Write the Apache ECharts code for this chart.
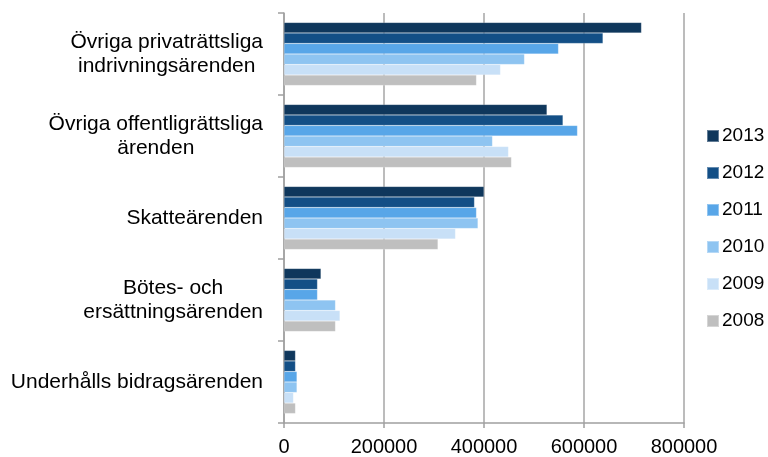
<!DOCTYPE html>
<html>
<head>
<meta charset="utf-8">
<script src="https://cdn.jsdelivr.net/npm/echarts@6/dist/echarts.min.js"></script>
<style>
html,body{margin:0;padding:0;background:#fff;}
#chart{width:768px;height:457px;}
</style>
</head>
<body>
<div id="chart"></div>
<script>
var categories = ['Övriga privaträttsliga\nindrivningsärenden', 'Övriga offentligrättsliga\närenden', 'Skatteärenden', 'Bötes- och\nersättningsärenden', 'Underhålls bidragsärenden'];
var years = ['2013', '2012', '2011', '2010', '2009', '2008'];
var v2013 = [715000, 526000, 400000, 74000, 23000];
var v2012 = [638000, 558000, 381000, 67000, 23000];
var v2011 = [549000, 587000, 385000, 67000, 26000];
var v2010 = [481000, 417000, 388000, 103000, 26000];
var v2009 = [433000, 449000, 343000, 112000, 19000];
var v2008 = [385000, 455000, 308000, 103000, 23000];
var xTicks = [0, 200000, 400000, 600000, 800000];
var colors = ['#0f375c', '#134f86', '#58a6e8', '#8ec4f1', '#c8e0f7', '#bfbfbf'];

var values = [v2013, v2012, v2011, v2010, v2009, v2008];
var font = '"Liberation Sans", Arial, sans-serif';
var chart = echarts.init(document.getElementById('chart'), null, {renderer: 'canvas'});
chart.setOption({
  animation: false,
  backgroundColor: '#ffffff',
  color: colors,
  grid: {left: 284, right: 84, top: 13, bottom: 34, containLabel: false},
  legend: {
    orient: 'vertical',
    left: 706,
    top: 126,
    padding: 0,
    itemWidth: 12,
    itemHeight: 12,
    itemGap: 17,
    icon: 'rect',
    data: years,
    textStyle: {fontFamily: font, fontSize: 19, color: '#000', lineHeight: 20, padding: [0, 0, 0, -2]}
  },
  xAxis: {
    type: 'value',
    min: xTicks[0],
    max: xTicks[xTicks.length - 1],
    interval: xTicks[1] - xTicks[0],
    axisLine: {show: true, lineStyle: {color: '#a0a0a0', width: 1.5}},
    axisTick: {show: true, length: 5, lineStyle: {color: '#a0a0a0', width: 1.5}},
    splitLine: {show: true, lineStyle: {color: '#a6a6a6', width: 1.5}},
    axisLabel: {
      fontFamily: font,
      fontSize: 20, color: '#000', margin: 14,
      formatter: function (v) { return String(v); }
    }
  },
  yAxis: {
    type: 'category',
    inverse: true,
    data: categories,
    axisLine: {show: true, lineStyle: {color: '#a0a0a0', width: 1.5}},
    axisTick: {show: true, length: 6, lineStyle: {color: '#a0a0a0', width: 1.5}},
    splitLine: {show: false},
    axisLabel: {
      margin: 21,
      align: 'right',
      formatter: function (v) {
        return v.split('\n').map(function (l) { return '{c|' + l + '}'; }).join('\n');
      },
      rich: {
        c: {align: 'center', fontFamily: font, fontSize: 21, color: '#000', lineHeight: 24}
      }
    }
  },
  series: years.map(function (y, i) {
    return {
      name: y,
      type: 'bar',
      data: values[i],
      barGap: '0%',
      barCategoryGap: '23%',
      itemStyle: {color: colors[i], borderColor: 'rgba(255,255,255,0.35)', borderWidth: 0.5}
    };
  })
});
</script>
</body>
</html>
